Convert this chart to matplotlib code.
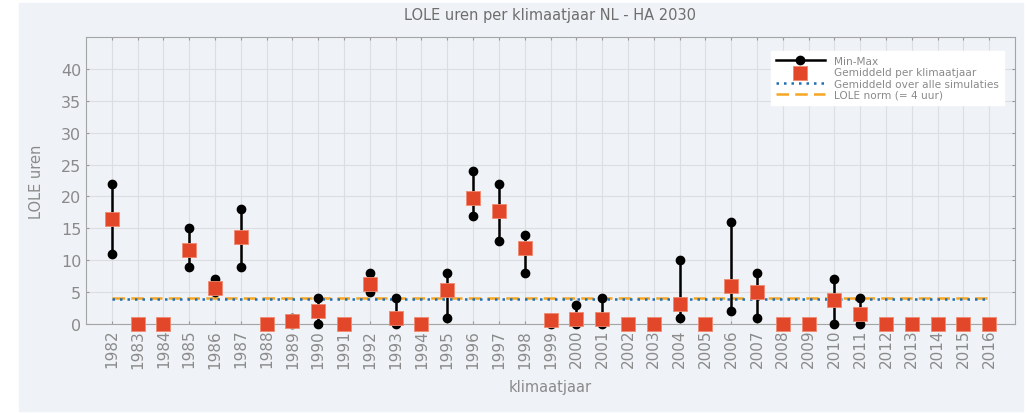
import numpy as np
import matplotlib
matplotlib.use("Agg")
from matplotlib import pyplot as plt
from matplotlib.patches import Rectangle

# data
jaren = list(range(1982, 2017))
lole_max = [22, 0, 0, 15, 7, 18, 0, 1, 4, 0, 8, 4, 0, 8, 24, 22, 14, 1, 3, 4,
            0, 0, 10, 0, 16, 8, 0, 0, 7, 4, 0, 0, 0, 0, 0]
lole_min = [11, 0, 0, 9, 5, 9, 0, 0, 0, 0, 5, 0, 0, 1, 17, 13, 8, 0, 0, 0,
            0, 0, 1, 0, 2, 1, 0, 0, 0, 0, 0, 0, 0, 0, 0]
lole_gem = [16.4, 0, 0, 11.6, 5.7, 13.7, 0, 0.5, 2.1, 0, 6.3, 0.9, 0, 5.4, 19.8, 17.7, 11.9, 0.6, 0.8, 0.8,
            0, 0, 3.1, 0, 5.9, 5.0, 0, 0, 3.7, 1.6, 0, 0, 0, 0, 0]
gem_alle = 3.85
lole_norm = 4

grijs = "#8a8a8a"
bg = "#eff2f6"

fig = plt.figure(figsize=(10.28, 4.14), dpi=100)
fig.patches.append(Rectangle((19 / 1028, 2 / 414), 1004 / 1028, 408 / 414,
                             transform=fig.transFigure, color=bg, zorder=-1))
ax = fig.add_axes([86 / 1028, 89 / 414, 929 / 1028, 287 / 414])
ax.set_facecolor(bg)

# min-max staven
for j, lo, hi in zip(jaren, lole_min, lole_max):
    if hi > 0:
        ax.plot([j, j], [lo, hi], color="black", lw=1.8, zorder=3)
ax.plot([], [], color="black", lw=1.8, marker="o", ms=6, label="Min-Max")
ax.scatter(jaren, lole_max, s=36, color="black", zorder=4, clip_on=False)
ax.scatter(jaren, lole_min, s=36, color="black", zorder=4, clip_on=False)

ax.plot([jaren[0], jaren[-1]], [lole_norm, lole_norm], color="#f5a623", lw=1.8,
        ls=(0, (5, 2.5)), zorder=2)
ax.plot([jaren[0], jaren[-1]], [gem_alle, gem_alle], color="#1f6fb4", lw=1.8,
        ls=(0, (1, 2)), zorder=2)

ax.scatter(jaren, lole_gem, s=95, marker="s", color="#e2472a", edgecolor="#f08a70",
           linewidth=0.6, zorder=5, label="Gemiddeld per klimaatjaar", clip_on=False)
ax.plot([], [], color="#1f6fb4", lw=1.8, ls=(0, (1, 2)), label="Gemiddeld over alle simulaties")
ax.plot([], [], color="#f5a623", lw=1.8, ls=(0, (5, 2.5)), label="LOLE norm (= 4 uur)")

ax.set_xlim(1981, 2017)
ax.set_ylim(0, 45)
ax.set_xticks(jaren)
ax.set_xticklabels([str(j) for j in jaren], rotation=90, fontsize=11, color=grijs)
ax.set_yticks(range(0, 45, 5))
ax.tick_params(axis="y", labelsize=11.5, labelcolor=grijs)
ax.tick_params(axis="both", color="#9a9a9a", length=2, direction="in", top=True, right=True)
ax.grid(True, color="#dcdee1", lw=0.8)
ax.set_axisbelow(True)
for s in ax.spines.values():
    s.set_color("#a5a5a5")

ax.set_title("LOLE uren per klimaatjaar NL - HA 2030", fontsize=10.5, color="#6e6e6e", pad=13)
ax.set_ylabel("LOLE uren", fontsize=10.5, color=grijs, labelpad=12)
ax.set_xlabel("klimaatjaar", fontsize=10.5, color=grijs, labelpad=8)

leg = ax.legend(loc="upper right", bbox_to_anchor=(0.988, 0.95), fontsize=7.6, frameon=True,
                fancybox=False, borderpad=0.45, labelspacing=0.12, handlelength=4.6,
                handletextpad=0.9, scatterpoints=1, borderaxespad=0)
leg.get_frame().set_edgecolor("white")
leg.get_frame().set_alpha(1)
for t in leg.get_texts():
    t.set_color(grijs)

fig.savefig("out.png", dpi=100, facecolor="white")
